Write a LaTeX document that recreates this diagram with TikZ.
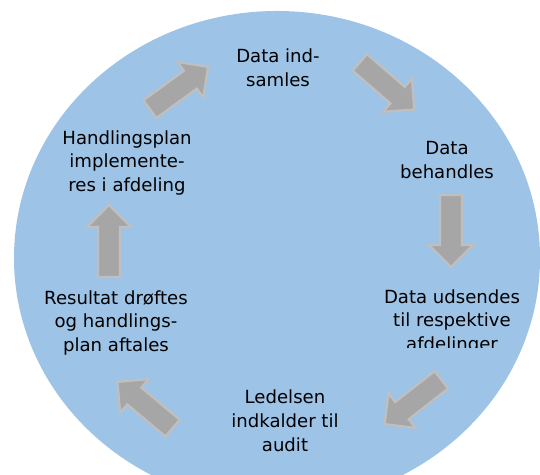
\documentclass[tikz,border=0pt]{standalone}
\usepackage{fontspec}
\setmainfont{DejaVu Sans}
\definecolor{cycleblue}{HTML}{9DC3E6}
\definecolor{arrowgray}{HTML}{A6A6A6}
\definecolor{arrowedge}{HTML}{BFBFBF}
\tikzset{
 steptext/.style={align=center,font=\fontsize{10.3}{13.6}\selectfont},
 cyclearrow/.pic={
  \draw[fill=arrowgray,draw=arrowedge,line width=1.3pt,line join=miter]
   (-36,-11) -- (14,-11) -- (14,-22) -- (36,0) -- (14,22) -- (14,11) -- (-36,11) -- cycle;
 }
}
\begin{document}
\begin{tikzpicture}[x=0.02cm,y=0.02cm]
 \useasboundingbox (0,0) rectangle (540,475);
 \begin{scope}
  \clip (0,0) rectangle (540,475);
  \fill[cycleblue] (277,217) ellipse (263 and 247);
 \end{scope}

 \node[steptext] (samles) at (278,407) {Data ind-\\samles};
 \node[steptext] (behandles) at (447,315) {Data\\behandles};
 \begin{scope}
  \clip (300,127) rectangle (540,200);
  \node[steptext] (udsendes) at (452,153) {Data udsendes\\til respektive\\afdelinger};
 \end{scope}
 \node[steptext] (audit) at (285,54) {Ledelsen\\indkalder til\\audit};
 \node[steptext] (aftales) at (116,152) {Resultat drøftes\\og handlings-\\plan aftales};
 \begin{scope}
  \clip (20,279) rectangle (240,360);
  \node[steptext] (afdeling) at (127,312) {Handlingsplan\\implemente-\\res i afdeling};
 \end{scope}

 \pic[rotate=36] at (179,387) {cyclearrow};
 \pic[rotate=-41] at (387,389) {cyclearrow};
 \pic[rotate=-90] at (451,244) {cyclearrow};
 \pic[rotate=218] at (413,73) {cyclearrow};
 \pic[rotate=140] at (145,70) {cyclearrow};
 \pic[rotate=90] at (109,234) {cyclearrow};
\end{tikzpicture}
\end{document}
